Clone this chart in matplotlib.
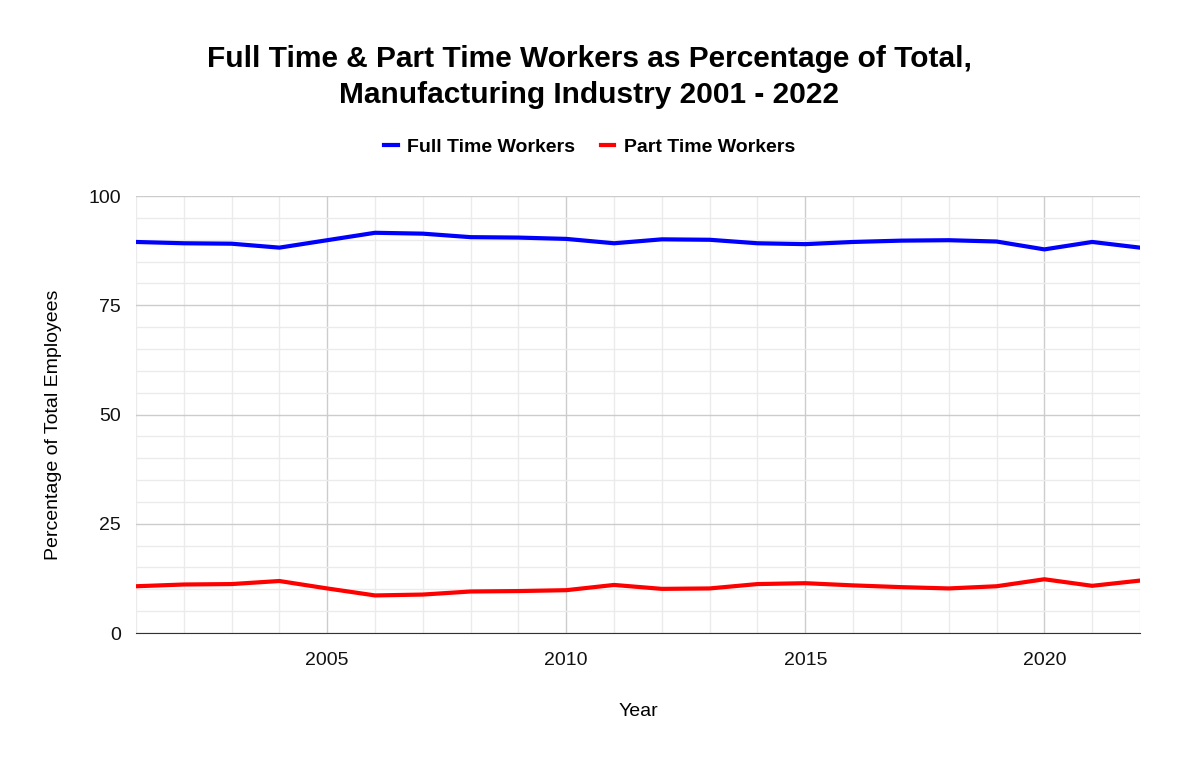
import matplotlib.pyplot as plt
from matplotlib.ticker import MultipleLocator

years = list(range(2001, 2023))
full_time = [89.5, 89.2, 89.1, 88.2, 89.9, 91.6, 91.4, 90.6, 90.5, 90.2, 89.2,
             90.1, 90.0, 89.2, 89.0, 89.5, 89.8, 89.9, 89.6, 87.8, 89.5, 88.2]
part_time = [10.7, 11.1, 11.2, 11.9, 10.2, 8.6, 8.8, 9.5, 9.6, 9.8, 11.0,
             10.1, 10.2, 11.2, 11.4, 10.9, 10.5, 10.2, 10.7, 12.3, 10.8, 12.0]

plt.rcParams['font.family'] = ['Liberation Sans', 'DejaVu Sans']

fig = plt.figure(figsize=(11.79, 7.6), dpi=100)
ax = fig.add_axes([0.1153, 0.1671, 0.8516, 0.5749])

ax.plot(years, full_time, color='#0000ff', lw=3, label='Full Time Workers', solid_joinstyle='round')
ax.plot(years, part_time, color='#ff0000', lw=3, label='Part Time Workers', solid_joinstyle='round')

ax.set_xlim(2001, 2022)
ax.set_ylim(0, 100)
ax.xaxis.set_major_locator(MultipleLocator(5))
ax.xaxis.set_minor_locator(MultipleLocator(1))
ax.yaxis.set_major_locator(MultipleLocator(25))
ax.yaxis.set_minor_locator(MultipleLocator(5))
ax.grid(which='major', color='#cccccc', lw=1)
ax.grid(which='minor', color='#ebebeb', lw=1)
ax.set_axisbelow(True)
ax.tick_params(which='both', length=0, labelsize=14, colors='#111111')
ax.tick_params(axis='x', pad=14)
ax.tick_params(axis='y', pad=11)
for s in ['top', 'right', 'left']:
    ax.spines[s].set_visible(False)
ax.spines['bottom'].set_color('#333333')

ax.set_xlabel('Year', fontsize=14, labelpad=24)
ax.set_ylabel('Percentage of Total Employees', fontsize=14)
ax.yaxis.set_label_coords(-0.074, 0.476)

fig.suptitle('Full Time & Part Time Workers as Percentage of Total,\nManufacturing Industry 2001 - 2022',
             fontsize=21.5, fontweight='bold', y=0.899, va='center', linespacing=1.35)
fig.legend(loc='center', bbox_to_anchor=(0.5, 0.806), ncol=2, frameon=False,
           prop={'size': 14, 'weight': 'bold'}, handlelength=0.7, handletextpad=0.5,
           columnspacing=1.3)

fig.savefig('out.png', dpi=100)
